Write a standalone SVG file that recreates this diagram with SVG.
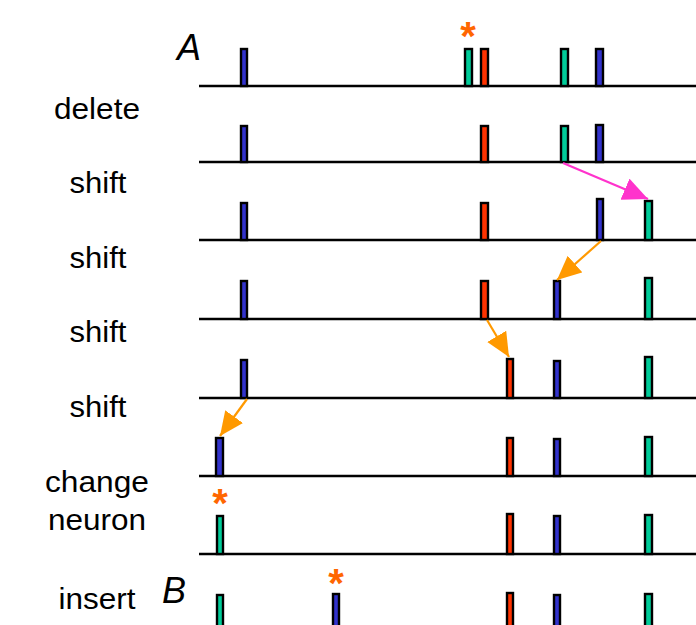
<svg xmlns="http://www.w3.org/2000/svg" width="696" height="625" viewBox="0 0 696 625">
<style>
.lbl{font-family:"Liberation Sans",Arial,sans-serif;font-size:29px;fill:#000;text-anchor:middle}
.big{font-family:"Liberation Sans",Arial,sans-serif;font-size:36px;font-style:italic;fill:#000}
.ast{font-family:"Liberation Sans",Arial,sans-serif;font-size:40px;font-weight:bold;fill:#FF6600;text-anchor:middle}
.base{stroke:#000;stroke-width:2.5;fill:none}
.b{fill:#3333CC;stroke:#000;stroke-width:2.4}
.r{fill:#FF3300;stroke:#000;stroke-width:2.4}
.g{fill:#00CC99;stroke:#000;stroke-width:2.4}
.pk{stroke:#FF33CC;stroke-width:2.2;fill:none}
.or{stroke:#FF9900;stroke-width:2.2;fill:none}
</style>
<defs>
<marker id="ap" markerUnits="userSpaceOnUse" markerWidth="28" markerHeight="26" refX="25" refY="11.5" orient="auto"><path d="M0,0 L25,11.5 L0,23 z" fill="#FF33CC"/></marker>
<marker id="ao" markerUnits="userSpaceOnUse" markerWidth="28" markerHeight="26" refX="24" refY="11" orient="auto"><path d="M0,0 L24,11 L0,22 z" fill="#FF9900"/></marker>
</defs>
<rect width="696" height="625" fill="#fff"/>
<g id="labels">
<text class="big" x="177" y="60">A</text>
<text class="big" x="162" y="603">B</text>
<text class="lbl" x="97" y="119" textLength="86" lengthAdjust="spacingAndGlyphs">delete</text>
<text class="lbl" x="98" y="193" textLength="57" lengthAdjust="spacingAndGlyphs">shift</text>
<text class="lbl" x="98" y="268" textLength="57" lengthAdjust="spacingAndGlyphs">shift</text>
<text class="lbl" x="98" y="342" textLength="57" lengthAdjust="spacingAndGlyphs">shift</text>
<text class="lbl" x="98" y="417" textLength="57" lengthAdjust="spacingAndGlyphs">shift</text>
<text class="lbl" x="97" y="492" textLength="104" lengthAdjust="spacingAndGlyphs">change</text>
<text class="lbl" x="97" y="530" textLength="98" lengthAdjust="spacingAndGlyphs">neuron</text>
<text class="lbl" x="97" y="609" textLength="77" lengthAdjust="spacingAndGlyphs">insert</text>
<text class="ast" x="468" y="50">*</text>
<text class="ast" x="220" y="517">*</text>
<text class="ast" x="336" y="597">*</text>
</g>
<g id="row1">
<line class="base" x1="199" y1="86" x2="696" y2="86"/>
<rect class="b" x="241" y="49" width="6" height="37"/>
<rect class="g" x="465" y="49" width="7" height="37"/>
<rect class="r" x="481" y="49" width="7" height="37"/>
<rect class="g" x="561" y="49" width="7" height="37"/>
<rect class="b" x="596" y="49" width="7" height="37"/>
</g>
<g id="row2">
<line class="base" x1="199" y1="162" x2="696" y2="162"/>
<rect class="b" x="241" y="126" width="6" height="36"/>
<rect class="r" x="481" y="126" width="7" height="36"/>
<rect class="g" x="561" y="126" width="7" height="36"/>
<rect class="b" x="596" y="125" width="7" height="37"/>
</g>
<g id="row3">
<line class="base" x1="199" y1="240" x2="696" y2="240"/>
<rect class="b" x="241" y="203" width="6" height="37"/>
<rect class="r" x="481" y="203" width="7" height="37"/>
<rect class="b" x="597" y="199" width="6" height="41"/>
<rect class="g" x="645" y="201" width="7" height="39"/>
</g>
<g id="row4">
<line class="base" x1="199" y1="319" x2="696" y2="319"/>
<rect class="b" x="241" y="281" width="6" height="38"/>
<rect class="r" x="481" y="281" width="7" height="38"/>
<rect class="b" x="554" y="281" width="6" height="38"/>
<rect class="g" x="645" y="278" width="7" height="41"/>
</g>
<g id="row5">
<line class="base" x1="199" y1="398" x2="696" y2="398"/>
<rect class="b" x="241" y="360" width="6" height="38"/>
<rect class="r" x="507" y="359" width="6" height="39"/>
<rect class="b" x="554" y="361" width="6" height="37"/>
<rect class="g" x="645" y="357" width="7" height="41"/>
</g>
<g id="row6">
<line class="base" x1="199" y1="476" x2="696" y2="476"/>
<rect class="b" x="216" y="438" width="7" height="38"/>
<rect class="r" x="507" y="438" width="6" height="38"/>
<rect class="b" x="554" y="439" width="6" height="37"/>
<rect class="g" x="645" y="437" width="7" height="39"/>
</g>
<g id="row7">
<line class="base" x1="199" y1="554" x2="696" y2="554"/>
<rect class="g" x="217" y="516" width="6" height="38"/>
<rect class="r" x="507" y="514" width="6" height="40"/>
<rect class="b" x="554" y="516" width="6" height="38"/>
<rect class="g" x="645" y="515" width="7" height="39"/>
</g>
<g id="row8">
<rect class="g" x="217" y="595" width="6" height="40"/>
<rect class="b" x="333" y="594" width="6" height="41"/>
<rect class="r" x="507" y="593" width="6" height="42"/>
<rect class="b" x="554" y="595" width="6" height="40"/>
<rect class="g" x="645" y="594" width="7" height="41"/>
</g>
<g id="connectors">
<line class="pk" x1="563" y1="163" x2="648" y2="199" marker-end="url(#ap)"/>
<line class="or" x1="601" y1="241" x2="557" y2="280" marker-end="url(#ao)"/>
<line class="or" x1="487" y1="320" x2="509" y2="357" marker-end="url(#ao)"/>
<line class="or" x1="247" y1="399" x2="220" y2="436" marker-end="url(#ao)"/>
</g>
</svg>
